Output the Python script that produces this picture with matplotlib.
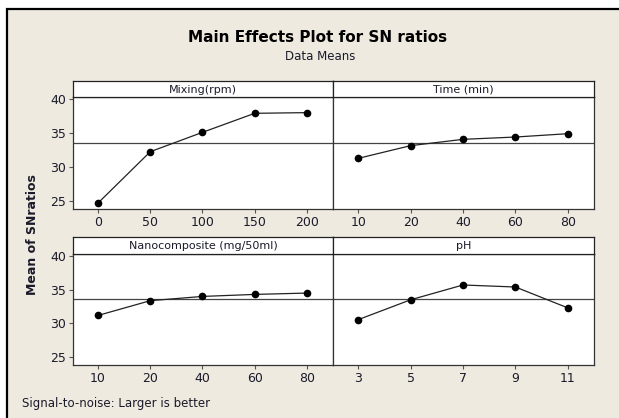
"""Main effects plot for SN ratios (Minitab style)."""

import matplotlib.pyplot as plt
from matplotlib.patches import Rectangle

# factor levels and mean SN ratios
mixing_levels = ["0", "50", "100", "150", "200"]
mixing_sn = [24.7, 32.25, 35.1, 37.9, 38.0]

time_levels = ["10", "20", "40", "60", "80"]
time_sn = [31.27, 33.14, 34.07, 34.41, 34.9]

nano_levels = ["10", "20", "40", "60", "80"]
nano_sn = [31.18, 33.37, 34.0, 34.3, 34.5]

ph_levels = ["3", "5", "7", "9", "11"]
ph_sn = [30.55, 33.5, 35.7, 35.4, 32.3]

overall_mean = 33.6
y_ticks = [25, 30, 35, 40]

W, H = 619, 418
BG = "#EEEAE0"


def fx(px):
    return px / W


def fy(py):
    return 1 - py / H


def make_panel(fig, x0, x1, strip_top, strip_bot, ax_bot, title, levels, values, show_y):
    ax = fig.add_axes([fx(x0), fy(ax_bot), fx(x1) - fx(x0), fy(strip_bot) - fy(ax_bot)])
    pos = list(range(1, len(levels) + 1))
    ax.plot(pos, values, color="#222222", lw=0.9, marker="o", ms=4.5,
            markerfacecolor="black", markeredgecolor="black")
    ax.axhline(overall_mean, color="#444444", lw=0.9, zorder=0)
    ax.set_xlim(0.52, 5.5)
    ax.set_ylim(23.82, 40.3)
    ax.set_xticks(pos)
    ax.set_xticklabels(levels)
    ax.set_yticks(y_ticks)
    ax.tick_params(direction="out", length=3, width=0.8, color="#555555",
                   labelsize=9, labelcolor="#1a1a2a", pad=2)
    if not show_y:
        ax.tick_params(axis="y", left=False, labelleft=False)
    for sp in ax.spines.values():
        sp.set_color("#333333")
        sp.set_linewidth(0.9)

    sx = fig.add_axes([fx(x0), fy(strip_bot), fx(x1) - fx(x0), fy(strip_top) - fy(strip_bot)])
    sx.set_xticks([])
    sx.set_yticks([])
    sx.set_facecolor("white")
    for sp in sx.spines.values():
        sp.set_color("#222222")
        sp.set_linewidth(0.9)
    sx.text(0.5, 0.45, title, ha="center", va="center", fontsize=8,
            color="#1a1a2a", transform=sx.transAxes)
    return ax


fig = plt.figure(figsize=(W / 100, H / 100), dpi=100)
fig.patch.set_facecolor("white")

# beige frame
frame = Rectangle((fx(7), -0.01), 1.0, fy(9) + 0.01, transform=fig.transFigure,
                  facecolor=BG, edgecolor="black", lw=1.6, zorder=-1)
fig.patches.append(frame)

make_panel(fig, 73, 333, 81, 97, 209, "Mixing(rpm)", mixing_levels, mixing_sn, True)
make_panel(fig, 333, 594, 81, 97, 209, "Time (min)", time_levels, time_sn, False)
make_panel(fig, 73, 333, 237, 254, 365, "Nanocomposite (mg/50ml)", nano_levels, nano_sn, True)
make_panel(fig, 333, 594, 237, 254, 365, "pH", ph_levels, ph_sn, False)

fig.text(fx(318), fy(38), "Main Effects Plot for SN ratios", ha="center", va="center",
         fontsize=11, fontweight="bold", color="black")
fig.text(fx(320), fy(57), "Data Means", ha="center", va="center", fontsize=8.5,
         color="#1a1a2a")
fig.text(fx(33), fy(235), "Mean of SNratios", ha="center", va="center", rotation=90,
         fontsize=9, fontweight="bold", color="#1a1a2a")
fig.text(fx(22), fy(403), "Signal-to-noise: Larger is better", ha="left", va="center",
         fontsize=8.5, color="#1a1a2a")

fig.savefig("out.png", dpi=100, facecolor=fig.get_facecolor())
